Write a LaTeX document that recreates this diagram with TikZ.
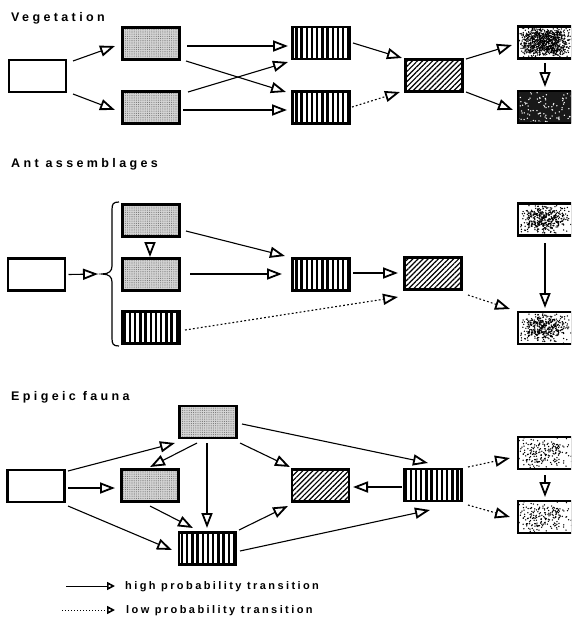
\documentclass[tikz,border=0pt]{standalone}
\usepackage{fontspec}
\setmainfont{Liberation Sans}
\newfontfamily\ttlfont{Liberation Sans}[LetterSpace=27]
\newfontfamily\lgdfont{Liberation Sans}[LetterSpace=22]
\usetikzlibrary{arrows.meta,patterns.meta}

% random speckle inside a box: #1 count, #2 spread (0..1), #3 colour
\newcommand\speckles[3]{%
  \foreach \k in {1,...,#1}{%
    \pgfmathsetmacro\rx{28*rand*(1-#2+#2*abs(rand))}%
    \pgfmathsetmacro\ry{16*rand*(1-#2+#2*abs(rand))}%
    \fill[#3] ([shift={(\rx pt,\ry pt)}]path picture bounding box.center) circle (0.75pt);
  }}

\tikzset{
  box/.style={draw, line width=2.2pt, minimum width=57pt, minimum height=32pt, inner sep=0pt},
  rbox/.style={box, minimum width=54pt},
  plain/.style={box, fill=white},
  stipple/.style={box, preaction={fill=gray!34},
    pattern={Dots[distance=2.2pt, radius=0.55pt]}, pattern color=gray!90!black},
  stripes/.style={box, preaction={fill=white},
    pattern={Lines[angle=90, distance=5.2pt, line width=2.5pt]}, pattern color=black},
  hatch/.style={box, preaction={fill=white},
    pattern={Lines[angle=45, distance=3.6pt, line width=1.2pt]}, pattern color=black},
  spkdark/.style={rbox, fill=white, path picture={\pgfmathsetseed{11}\speckles{900}{0.55}{black}}},
  spkblack/.style={rbox, fill=black!90, path picture={\pgfmathsetseed{23}\speckles{130}{-0.4}{white}}},
  spkmid/.style={rbox, fill=white, path picture={\pgfmathsetseed{37}\speckles{420}{0.7}{black}}},
  spklight/.style={rbox, fill=white, path picture={\pgfmathsetseed{53}\speckles{190}{0.5}{black}}},
  hi/.style={line width=1.1pt, -{Triangle[open, length=15pt, width=11pt, line width=1.8pt]}},
  lo/.style={hi, dash pattern=on 1.8pt off 2.2pt},
  hismall/.style={line width=1pt, -{Triangle[open, length=8pt, width=8pt, line width=1.6pt]}},
  losmall/.style={hismall, dash pattern=on 1.4pt off 1.6pt},
  ttl/.style={font=\ttlfont\bfseries\fontsize{12.5}{14}\selectfont, inner sep=0pt, anchor=base west},
  lgd/.style={font=\lgdfont\bfseries\fontsize{11}{13}\selectfont, inner sep=0pt, anchor=base west},
}

\begin{document}
\begin{tikzpicture}[x=1pt, y=-1pt]
\useasboundingbox (0,0) rectangle (571,626);
\clip (0,0) rectangle (571,626);

% ---------------- Vegetation ----------------
\node[ttl] (tVeg) at (11,22) {Vegetation};
\node[plain]    (vA)  at (37.5,76) {};
\node[stipple]  (vB1) at (151,43.5) {};
\node[stipple]  (vB2) at (151,107.5) {};
\node[stripes]  (vC1) at (321,43) {};
\node[stripes]  (vC2) at (321,107.5) {};
\node[hatch]    (vD)  at (434,75.5) {};
\node[spkdark]  (vE1) at (545,42.5) {};
\node[spkblack] (vE2) at (545,107) {};

\draw[hi] ([shift={(35.5,-15)}]vA.center) -- ([shift={(-36,2.5)}]vB1.center);
\draw[hi] ([shift={(35.5,18)}]vA.center) -- ([shift={(-36,2.5)}]vB2.center);
\draw[hi] ([shift={(36,2.5)}]vB1.center) -- ([shift={(-33,3)}]vC1.center);
\draw[hi] ([shift={(35,17.5)}]vB1.center) -- ([shift={(-35,-15.5)}]vC2.center);
\draw[hi] ([shift={(37,-15.5)}]vB2.center) -- ([shift={(-33,19)}]vC1.center);
\draw[hi] ([shift={(32,2.5)}]vB2.center) -- ([shift={(-34,2.5)}]vC2.center);
\draw[hi] ([shift={(32,0)}]vC1.center) -- ([shift={(-32,-17.5)}]vD.center);
\draw[lo] ([shift={(31,-0.5)}]vC2.center) -- ([shift={(-34,16.5)}]vD.center);
\draw[hi] ([shift={(32,-16.5)}]vD.center) -- ([shift={(-33,2.5)}]vE1.center);
\draw[hi] ([shift={(32,16.5)}]vD.center) -- ([shift={(-32,3)}]vE2.center);
\draw[hi] ([shift={(0,20.5)}]vE1.center) -- ([shift={(0,-20)}]vE2.center);

% ---------------- Ant assemblages ----------------
\node[ttl] (tAnt) at (11,167) {Ant assemblages};
\node[plain]    (aA)  at (36.5,274.5) {};
\node[stipple]  (aB1) at (151,220.5) {};
\node[stipple]  (aB2) at (151,274.5) {};
\node[stripes]  (aS)  at (151,327.5) {};
\node[stripes]  (aC)  at (321,274.5) {};
\node[hatch]    (aD)  at (433,273.5) {};
\node[spkmid]   (aE1) at (545,219.5) {};
\node[spkmid]   (aE2) at (545,328) {};

% brace grouping the three states
\draw[line width=1.2pt] (119,202) .. controls (113,202) and (112,204) .. (112,210)
  -- (112,266) .. controls (112,271) and (109,274) .. (102,274)
  .. controls (109,274) and (112,277) .. (112,282)
  -- (112,338) .. controls (112,344) and (113,346) .. (119,346);
\coordinate (aBr) at (102,274);

\draw[hi] ([shift={(32,0)}]aA.center) -- ([xshift=-4pt]aBr);
\draw[hi] ([shift={(-1,21.5)}]aB1.center) -- ([shift={(-1,-17.5)}]aB2.center);
\draw[hi] ([shift={(35,10.5)}]aB1.center) -- ([shift={(-36,-18.5)}]aC.center);
\draw[hi] ([shift={(39,-0.5)}]aB2.center) -- ([shift={(-39,-0.5)}]aC.center);
\draw[lo] ([shift={(34,2.5)}]aS.center) -- ([shift={(-35,23.5)}]aD.center);
\draw[hi] ([shift={(32,-1.5)}]aC.center) -- ([shift={(-35,-0.5)}]aD.center);
\draw[lo] ([shift={(35,21.5)}]aD.center) -- ([shift={(-35,-19)}]aE2.center);
\draw[hi] ([shift={(0,23.5)}]aE1.center) -- ([shift={(0,-20)}]aE2.center);

% ---------------- Epigeic fauna ----------------
\node[ttl] (tFau) at (11,400) {Epigeic fauna};
\node[stipple]  (fT)  at (208,422) {};
\node[plain]    (fA)  at (36,486) {};
\node[stipple]  (fB)  at (150,485.5) {};
\node[stripes]  (fS)  at (207.5,548.5) {};
\node[hatch]    (fD)  at (320.5,485.5) {};
\node[stripes]  (fR)  at (433,485) {};
\node[spklight] (fE1) at (545,453) {};
\node[spklight] (fE2) at (545,517) {};

\draw[hi] ([shift={(32,-15)}]fA.center) -- ([shift={(-33,21)}]fT.center);
\draw[hi] ([shift={(32,2)}]fA.center) -- ([shift={(-35,2.5)}]fB.center);
\draw[hi] ([shift={(32,20)}]fA.center) -- ([shift={(-35.5,1.5)}]fS.center);
\draw[hi] ([shift={(-11,21)}]fT.center) -- ([shift={(0,-18.5)}]fB.center);
\draw[hi] ([shift={(-1,21)}]fT.center) -- ([shift={(-0.5,-20.5)}]fS.center);
\draw[hi] ([shift={(32,21)}]fT.center) -- ([shift={(-30.5,-18.5)}]fD.center);
\draw[hi] ([shift={(34,2)}]fT.center) -- ([shift={(-5,-22)}]fR.center);
\draw[hi] ([shift={(0,20.5)}]fB.center) -- ([shift={(-14.5,-20.5)}]fS.center);
\draw[hi] ([shift={(31.5,-18.5)}]fS.center) -- ([shift={(-32.5,20.5)}]fD.center);
\draw[hi] ([shift={(32.5,2.5)}]fS.center) -- ([shift={(-3,25)}]fR.center);
\draw[hi] ([shift={(-31,2)}]fR.center) -- ([shift={(32.5,1.5)}]fD.center);
\draw[lo] ([shift={(35,-18)}]fR.center) -- ([shift={(-35,5)}]fE1.center);
\draw[lo] ([shift={(35,20)}]fR.center) -- ([shift={(-35,0)}]fE2.center);
\draw[hi] ([shift={(0,22)}]fE1.center) -- ([shift={(0,-20)}]fE2.center);

% ---------------- Legend ----------------
\node[lgd] (lHi) at (125,589) {high probability transition};
\node[lgd] (lLo) at (126,613) {low probability transition};
\coordinate (lHiS) at (66,586);
\coordinate (lLoS) at (62,610);
\draw[hismall] (lHiS) -- ([shift={(-10,-3)}]lHi.base west);
\draw[losmall] (lLoS) -- ([shift={(-11,-3)}]lLo.base west);
\end{tikzpicture}
\end{document}
